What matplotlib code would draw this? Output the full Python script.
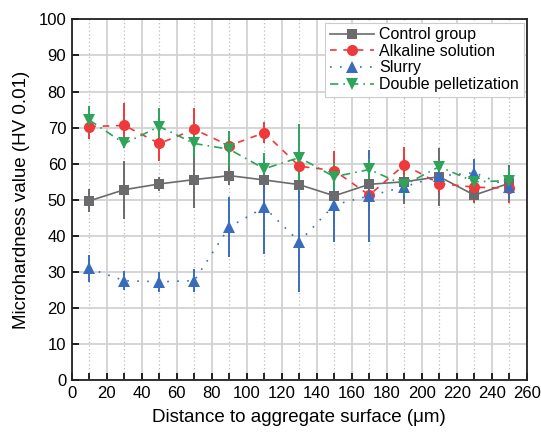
import matplotlib.pyplot as plt
from matplotlib.lines import Line2D
import numpy as np

plt.rcParams['font.family'] = ['Liberation Sans', 'DejaVu Sans']

# Sampling depths (um)
distance = [10, 30, 50, 70, 90, 110, 130, 150, 170, 190, 210, 230, 250]

control = [49.7, 52.8, 54.4, 55.6, 56.7, 55.5, 54.2, 51.1, 54.3, 55.0, 56.4, 51.3, 54.6]
control_err = [3.2, 8.0, 2.0, 7.8, 2.5, 5.8, 5.0, 7.2, 4.0, 6.2, 8.0, 2.3, 5.0]

alkaline = [70.3, 70.6, 65.6, 69.5, 65.0, 68.6, 59.3, 58.1, 51.3, 59.7, 54.5, 53.5, 53.2]
alkaline_err = [3.5, 6.2, 4.8, 6.0, 2.3, 3.0, 3.0, 5.3, 4.1, 5.0, 2.7, 4.2, 4.2]

slurry = [31.0, 27.6, 27.3, 27.6, 42.5, 47.9, 38.4, 48.6, 51.1, 53.6, 56.6, 57.5, 53.6]
slurry_err = [3.7, 2.7, 2.7, 3.1, 8.4, 13.0, 14.0, 10.3, 12.8, 3.0, 3.2, 3.7, 3.6]

double_pel = [72.1, 65.6, 70.3, 65.6, 64.0, 58.6, 61.7, 56.4, 58.4, 54.1, 59.2, 55.0, 55.3]
double_pel_err = [3.8, 1.0, 5.0, 4.1, 5.0, 4.3, 9.2, 3.9, 2.8, 2.7, 1.6, 2.5, 3.1]

labels = ['Control group', 'Alkaline solution', 'Slurry', 'Double pelletization']

fig = plt.figure(figsize=(5.41, 4.34), dpi=100)
ax = fig.add_axes([0.1327, 0.1237, 0.8411, 0.8318])

series = [
    (control, control_err, '#6b6b6e', '-', 's', 7, labels[0]),
    (alkaline, alkaline_err, '#ee3a3a', (0, (4, 4)), 'o', 8, labels[1]),
    (slurry, slurry_err, '#3a6cbd', (0, (1, 5)), '^', 8, labels[2]),
    (double_pel, double_pel_err, '#2ea35a', (0, (5, 3, 1, 3)), 'v', 8, labels[3]),
]

handles = []
for vals, err, col, ls, mk, ms, lab in series:
    ax.errorbar(distance, vals, yerr=err, color=col, linestyle=ls, linewidth=1.2,
                marker=mk, markersize=ms, markeredgewidth=0, capsize=4,
                elinewidth=1.4, capthick=1.4, zorder=3)
    handles.append(Line2D([], [], color=col, linestyle=ls, linewidth=1.2,
                          marker=mk, markersize=ms, markeredgewidth=0, label=lab))

ax.set_xlim(0, 260)
ax.set_ylim(0, 100)
ax.set_xticks(np.arange(0, 261, 20))
ax.set_xticks(distance, minor=True)
ax.set_yticks(np.arange(0, 101, 10))

# solid major grid plus dotted guides at each sampling depth
ax.grid(True, which='major', color='#d2d2d2', linewidth=1.3, zorder=0)
ax.grid(True, which='minor', axis='x', color='#bdbdbd', linestyle=(0, (1, 2)),
        linewidth=0.9, zorder=0)
ax.set_axisbelow(True)

ax.tick_params(which='both', direction='in', top=False, right=False,
               labelsize=12, length=5, width=1.2, pad=4)
ax.tick_params(which='minor', length=5)
for sp in ax.spines.values():
    sp.set_linewidth(1.3)
    sp.set_color('#222222')

ax.set_xlabel('Distance to aggregate surface (\u03bcm)', fontsize=13.5, labelpad=6)
ax.set_ylabel('Microhardness value (HV 0.01)', fontsize=13.5, labelpad=6)

leg = ax.legend(handles=handles, loc='upper right', fontsize=11.5, frameon=True,
                fancybox=False, edgecolor='#cccccc', framealpha=1,
                handlelength=2.8, borderpad=0.3, labelspacing=0.1,
                handletextpad=0.3, borderaxespad=0.2)
leg.get_frame().set_linewidth(0.8)

fig.savefig('out.png', dpi=100)
